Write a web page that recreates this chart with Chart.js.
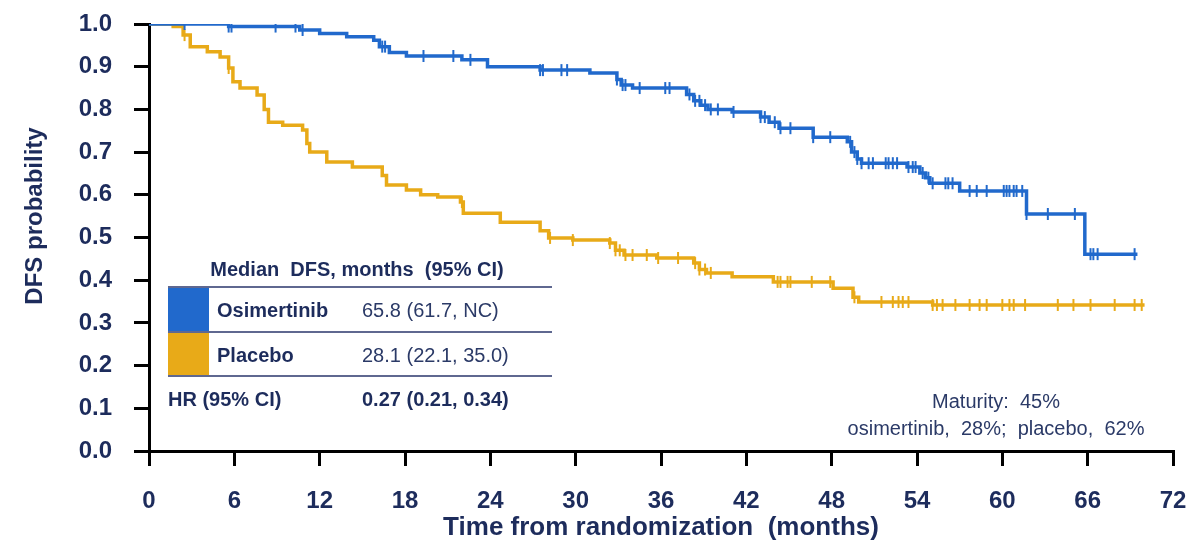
<!DOCTYPE html>
<html>
<head>
<meta charset="utf-8">
<script src="https://cdn.jsdelivr.net/npm/chart.js@4.4.0/dist/chart.umd.min.js"></script>
<style>
html, body { margin: 0; padding: 0; background: #fff; }
</style>
</head>
<body>
<canvas id="km" width="1192" height="541"></canvas>
<script>
// datos (meses, probabilidad DFS)
const osiTimes = [0, 5.6, 10.6, 12.0, 13.9, 15.8, 16.2, 16.9, 18.1, 22.0, 23.8, 27.5, 31.0, 32.9, 33.2, 34.0,
    37.8, 38.3, 38.8, 39.3, 41.0, 43.0, 43.6, 44.3, 46.7, 49.1, 49.4, 49.8, 50.1, 53.3, 54.2, 54.6, 54.9,
    57.0, 61.7, 65.8, 69.5];
const osiSurv = [1.0, 0.994, 0.986, 0.978, 0.970, 0.962, 0.947, 0.933, 0.925, 0.916, 0.900, 0.892, 0.885, 0.870, 0.857, 0.850,
    0.835, 0.820, 0.810, 0.800, 0.794, 0.782, 0.770, 0.756, 0.735, 0.724, 0.700, 0.684, 0.674, 0.665, 0.651, 0.640, 0.627,
    0.609, 0.555, 0.461, 0.461];
const osiCensor = [2.5, 5.6, 5.8, 8.9, 10.3, 10.8, 16.4, 16.6, 19.3, 21.4, 22.6, 27.5, 27.7, 29.0, 29.4, 32.9, 33.3, 33.5,
    34.5, 36.3, 36.6, 38.0, 38.4, 38.7, 39.1, 39.5, 40.0, 41.1, 43.0, 43.3, 44.0, 44.4, 45.1, 46.7, 47.9, 49.3, 49.6,
    49.8, 50.1, 50.6, 50.9, 51.8, 52.0, 52.3, 52.6, 53.4, 53.7, 53.9, 54.4, 54.8, 55.1, 56.0, 56.2, 56.5, 57.7, 58.2,
    58.9, 60.1, 60.3, 60.5, 60.8, 61.0, 61.4, 61.7, 63.2, 65.1, 66.2, 66.4, 66.7, 69.3];

const plaTimes = [0, 1.7, 2.4, 2.9, 4.1, 5.0, 5.6, 5.9, 6.4, 7.6, 8.1, 8.4, 9.4, 10.8, 11.1, 11.3, 12.5, 14.3, 16.4, 16.7,
    18.1, 19.1, 20.3, 21.9, 22.1, 24.7, 27.5, 28.1, 29.8, 32.4, 32.8, 33.4, 35.7, 38.3, 38.7, 39.2, 41.0, 43.9, 48.1,
    49.5, 49.9, 55.1, 70.0];
const plaSurv = [1.0, 0.994, 0.974, 0.947, 0.935, 0.923, 0.897, 0.865, 0.850, 0.834, 0.800, 0.770, 0.763, 0.752, 0.720, 0.700,
    0.677, 0.665, 0.645, 0.623, 0.611, 0.600, 0.595, 0.583, 0.557, 0.536, 0.516, 0.499, 0.494, 0.487, 0.470, 0.459, 0.452,
    0.440, 0.425, 0.417, 0.408, 0.396, 0.381, 0.360, 0.349, 0.342, 0.342];
const plaCensor = [2.5, 5.6, 22.0, 28.2, 29.8, 32.4, 32.8, 33.1, 33.5, 34.0, 35.0, 35.8, 37.2, 38.4, 38.7, 39.1, 39.5,
    44.2, 44.4, 44.9, 45.1, 46.6, 47.9, 49.6, 51.5, 52.3, 52.7, 53.0, 53.4, 55.1, 55.4, 55.8, 56.7, 57.7, 58.4, 58.9,
    60.0, 60.5, 60.8, 61.6, 63.9, 65.0, 66.2, 67.9, 69.3, 69.8];

const yTicks = [0, 0.1, 0.2, 0.3, 0.4, 0.5, 0.6, 0.7, 0.8, 0.9, 1.0];
const xTicks = [0, 6, 12, 18, 24, 30, 36, 42, 48, 54, 60, 66, 72];

const yTitle = 'DFS probability';
const xTitle = 'Time from randomization  (months)';
const tableTitle = 'Median  DFS, months  (95% CI)';
const armNames = ['Osimertinib', 'Placebo'];
const armMedians = ['65.8 (61.7, NC)', '28.1 (22.1, 35.0)'];
const hrLabel = 'HR (95% CI)';
const hrValue = '0.27 (0.21, 0.34)';
const maturityLines = ['Maturity:  45%', 'osimertinib,  28%;  placebo,  62%'];

const BLUE = '#2169cc';
const GOLD = '#e8aa18';
const NAVY = '#1d2c5c';
const FONT = '"Liberation Sans", Arial, sans-serif';

// valor de la curva escalonada en el tiempo t
function survAt(times, surv, t) {
    let v = surv[0];
    for (let i = 0; i < times.length; i++) {
        if (times[i] <= t) v = surv[i];
    }
    return v;
}

function stepData(times, surv) {
    return times.map((t, i) => ({ x: t, y: surv[i] }));
}

function censorData(censor, times, surv) {
    return censor.map(t => ({ x: t, y: survAt(times, surv, t) }));
}

function censorSet(label, pts, color) {
    return {
        label: label,
        data: pts,
        showLine: false,
        pointStyle: 'line',
        rotation: 90,
        pointRadius: 6,
        pointBorderWidth: 2,
        borderColor: color,
        backgroundColor: color
    };
}

// tabla de medianas, titulo del eje y y texto de madurez
const annotations = {
    id: 'annotations',
    afterDraw(chart) {
        const ctx = chart.ctx;
        ctx.save();
        ctx.fillStyle = NAVY;
        ctx.textBaseline = 'middle';

        ctx.save();
        ctx.translate(35, 216);
        ctx.rotate(-Math.PI / 2);
        ctx.textAlign = 'center';
        ctx.font = 'bold 24px ' + FONT;
        ctx.fillText(yTitle, 0, 0);
        ctx.restore();

        ctx.font = 'bold 20px ' + FONT;
        ctx.textAlign = 'center';
        ctx.fillText(tableTitle, 357, 270);

        const colors = [BLUE, GOLD];
        const rowTop = [288, 333];
        for (let i = 0; i < 2; i++) {
            ctx.fillStyle = colors[i];
            ctx.fillRect(168, rowTop[i], 41, 43);
            ctx.fillStyle = NAVY;
            ctx.textAlign = 'left';
            ctx.font = 'bold 20px ' + FONT;
            ctx.fillText(armNames[i], 217, rowTop[i] + 23);
            ctx.font = '20px ' + FONT;
            ctx.fillStyle = '#2b3a67';
            ctx.fillText(armMedians[i], 362, rowTop[i] + 23);
        }

        ctx.strokeStyle = '#5f6890';
        ctx.lineWidth = 2;
        [287, 332, 376].forEach(y => {
            ctx.beginPath();
            ctx.moveTo(168, y);
            ctx.lineTo(552, y);
            ctx.stroke();
        });

        ctx.fillStyle = NAVY;
        ctx.font = 'bold 20px ' + FONT;
        ctx.fillText(hrLabel, 168, 400);
        ctx.fillText(hrValue, 362, 400);

        ctx.fillStyle = '#2b3a67';
        ctx.font = '20px ' + FONT;
        ctx.textAlign = 'center';
        ctx.fillText(maturityLines[0], 996, 402);
        ctx.fillText(maturityLines[1], 996, 429);
        ctx.restore();
    }
};

const ctx = document.getElementById('km').getContext('2d');
const chart = new Chart(ctx, {
    type: 'line',
    data: {
        datasets: [
            censorSet('Osimertinib censored', censorData(osiCensor, osiTimes, osiSurv), BLUE),
            {
                label: 'Osimertinib',
                data: stepData(osiTimes, osiSurv),
                stepped: true,
                borderColor: BLUE,
                borderWidth: 3.5,
                pointRadius: 0,
                fill: false
            },
            censorSet('Placebo censored', censorData(plaCensor, plaTimes, plaSurv), GOLD),
            {
                label: 'Placebo',
                data: stepData(plaTimes, plaSurv),
                stepped: true,
                borderColor: GOLD,
                borderWidth: 3.5,
                pointRadius: 0,
                fill: false
            }
        ]
    },
    options: {
        responsive: false,
        animation: false,
        devicePixelRatio: 1,
        layout: { padding: { left: 0, top: 24, right: 19, bottom: 0 } },
        plugins: {
            legend: { display: false },
            tooltip: { enabled: false }
        },
        scales: {
            x: {
                type: 'linear',
                min: xTicks[0],
                max: xTicks[xTicks.length - 1],
                afterFit: s => { s.height = 90; s.paddingLeft = 0; s.paddingRight = 0; },
                afterBuildTicks: s => { s.ticks = xTicks.map(v => ({ value: v })); },
                ticks: {
                    color: NAVY,
                    padding: 21,
                    maxRotation: 0,
                    font: { family: FONT, size: 24, weight: 'bold' }
                },
                grid: { drawOnChartArea: false, color: '#000', lineWidth: 3, tickLength: 15 },
                border: { color: '#000', width: 3 },
                title: {
                    display: true,
                    text: xTitle,
                    color: NAVY,
                    padding: { top: 0, bottom: 0 },
                    font: { family: FONT, size: 26, weight: 'bold', lineHeight: 1.0 }
                }
            },
            y: {
                min: yTicks[0],
                max: yTicks[yTicks.length - 1],
                afterFit: s => { s.width = 149; s.paddingTop = 0; s.paddingBottom = 0; },
                afterBuildTicks: s => { s.ticks = yTicks.map(v => ({ value: v })); },
                ticks: {
                    color: NAVY,
                    padding: 22,
                    callback: v => v.toFixed(1),
                    font: { family: FONT, size: 24, weight: 'bold' }
                },
                grid: { drawOnChartArea: false, color: '#000', lineWidth: 3, tickLength: 15 },
                border: { color: '#000', width: 3 }
            }
        }
    },
    plugins: [annotations]
});
</script>
</body>
</html>
